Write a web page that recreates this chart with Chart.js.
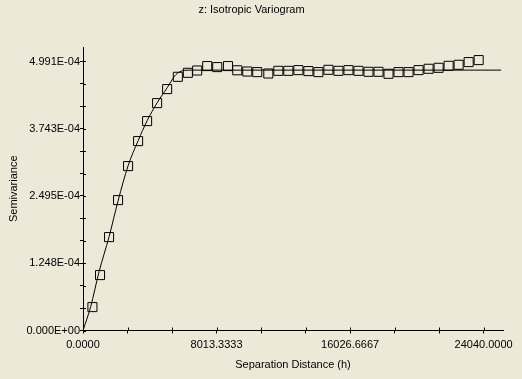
<!DOCTYPE html>
<html>
<head>
<meta charset="utf-8">
<script src="https://cdn.jsdelivr.net/npm/chart.js@4.4.1/dist/chart.umd.min.js"></script>
<style>
html,body{margin:0;padding:0;background:#ECE9D8;overflow:hidden;}
#c{display:block;background:#ECE9D8;}
</style>
</head>
<body>
<canvas id="c" width="522" height="379"></canvas>
<script>
// Experimental variogram (lag distance, semivariance)
const lagDistance = [565, 1022, 1563, 2104, 2705, 3306, 3846, 4447, 5048, 5691,
  6292, 6851, 7452, 8053, 8697, 9255, 9856, 10457, 11119, 11720,
  12321, 12922, 13523, 14124, 14725, 15326, 15927, 16528, 17129, 17730,
  18331, 18932, 19533, 20134, 20735, 21336, 21937, 22538, 23139, 23740];
const semivariance = [4.34e-5, 1.028e-4, 1.733e-4, 2.419e-4, 3.050e-4, 3.514e-4, 3.885e-4, 4.219e-4, 4.479e-4, 4.707e-4,
  4.781e-4, 4.824e-4, 4.906e-4, 4.887e-4, 4.906e-4, 4.828e-4, 4.805e-4, 4.794e-4, 4.768e-4, 4.818e-4,
  4.818e-4, 4.831e-4, 4.813e-4, 4.794e-4, 4.837e-4, 4.818e-4, 4.831e-4, 4.818e-4, 4.800e-4, 4.800e-4,
  4.763e-4, 4.794e-4, 4.794e-4, 4.831e-4, 4.856e-4, 4.874e-4, 4.911e-4, 4.930e-4, 4.980e-4, 5.017e-4];

// Fitted model curve
const modelDistance = [0, 463, 962, 1563, 2104, 2705, 3306, 3846, 4447, 5048, 5511, 5812, 6112, 6413, 25085];
const modelValue = [0, 4.45e-5, 1.089e-4, 1.738e-4, 2.406e-4, 3.056e-4, 3.520e-4, 3.891e-4, 4.225e-4, 4.503e-4, 4.726e-4, 4.800e-4, 4.828e-4, 4.831e-4, 4.831e-4];

// Axis tick labels
const xTickLabels = ['0.0000', '8013.3333', '16026.6667', '24040.0000'];
const yTickLabels = ['0.000E+00', '1.248E-04', '2.495E-04', '3.743E-04', '4.991E-04'];
const xLabelMax = 24040;
const yLabelMax = 4.991e-4;
const xAxisMax = 25200;
const yAxisMax = 5.26e-4;
const minorPerLabel = 3;

const xTickValues = [];
for (let i = 0; i <= (xTickLabels.length - 1) * minorPerLabel; i++) xTickValues.push(i * xLabelMax / ((xTickLabels.length - 1) * minorPerLabel));
const yTickValues = [];
for (let i = 0; i <= (yTickLabels.length - 1) * minorPerLabel; i++) yTickValues.push(i * yLabelMax / ((yTickLabels.length - 1) * minorPerLabel));

const FONT = {family: "'Liberation Sans', Arial, sans-serif", size: 11, weight: 'normal'};

const innerTicks = {
  id: 'innerTicks',
  afterDraw(chart) {
    const ctx = chart.ctx, a = chart.chartArea;
    const xs = chart.scales.x, ys = chart.scales.y;
    ctx.save();
    ctx.strokeStyle = '#000';
    ctx.lineWidth = 1;
    ctx.beginPath();
    xs.ticks.forEach(t => {
      const px = Math.round(xs.getPixelForValue(t.value)) + 0.5;
      ctx.moveTo(px, a.bottom);
      ctx.lineTo(px, a.bottom - 3);
    });
    ys.ticks.forEach(t => {
      const py = Math.round(ys.getPixelForValue(t.value)) + 0.5;
      ctx.moveTo(a.left, py);
      ctx.lineTo(a.left + 3, py);
    });
    ctx.stroke();
    ctx.restore();
  }
};

new Chart(document.getElementById('c'), {
  type: 'scatter',
  data: {
    datasets: [
      {
        label: 'Model',
        data: modelDistance.map((x, i) => ({x: x, y: modelValue[i]})),
        showLine: true,
        borderColor: '#000',
        borderWidth: 1,
        pointRadius: 0,
        pointHoverRadius: 0,
        cubicInterpolationMode: 'monotone',
        fill: false,
        order: 2
      },
      {
        label: 'Experimental',
        data: lagDistance.map((x, i) => ({x: x, y: semivariance[i]})),
        showLine: false,
        pointStyle: 'rect',
        pointRadius: 6.4,
        pointHoverRadius: 6.4,
        pointBorderWidth: 1,
        borderColor: '#000',
        backgroundColor: 'rgba(0,0,0,0)',
        order: 1
      }
    ]
  },
  options: {
    responsive: false,
    animation: false,
    devicePixelRatio: 1,
    layout: {padding: {left: 0, right: 19, top: 0, bottom: 0}},
    plugins: {
      legend: {display: false},
      tooltip: {enabled: false},
      title: {
        display: true,
        text: 'z: Isotropic Variogram',
        color: '#000',
        font: FONT,
        padding: {top: 3.4, bottom: 30.4}
      }
    },
    scales: {
      x: {
        type: 'linear',
        min: 0,
        max: xAxisMax,
        afterBuildTicks: s => { s.ticks = xTickValues.map(v => ({value: v})); },
        afterFit: s => { s.height = 48.5; },
        ticks: {
          autoSkip: false,
          maxRotation: 0,
          color: '#000',
          font: FONT,
          padding: 5,
          callback: (v, i) => (i % minorPerLabel === 0 ? xTickLabels[i / minorPerLabel] : '')
        },
        grid: {drawOnChartArea: false, drawTicks: true, tickLength: 3, color: '#000', lineWidth: 1},
        border: {display: true, color: '#000', width: 1},
        title: {display: true, text: 'Separation Distance (h)', color: '#000', font: FONT, padding: {top: 0, bottom: 7.4}}
      },
      y: {
        type: 'linear',
        min: 0,
        max: yAxisMax,
        afterBuildTicks: s => { s.ticks = yTickValues.map(v => ({value: v})); },
        afterFit: s => { s.width = 83; },
        ticks: {
          autoSkip: false,
          color: '#000',
          font: FONT,
          padding: 0,
          callback: (v, i) => (i % minorPerLabel === 0 ? yTickLabels[i / minorPerLabel] : '')
        },
        grid: {drawOnChartArea: false, drawTicks: true, tickLength: 3, color: '#000', lineWidth: 1},
        border: {display: true, color: '#000', width: 1},
        title: {display: true, text: 'Semivariance', color: '#000', font: FONT, padding: {top: 7.2, bottom: 0}}
      }
    }
  },
  plugins: [innerTicks]
});
</script>
</body>
</html>
